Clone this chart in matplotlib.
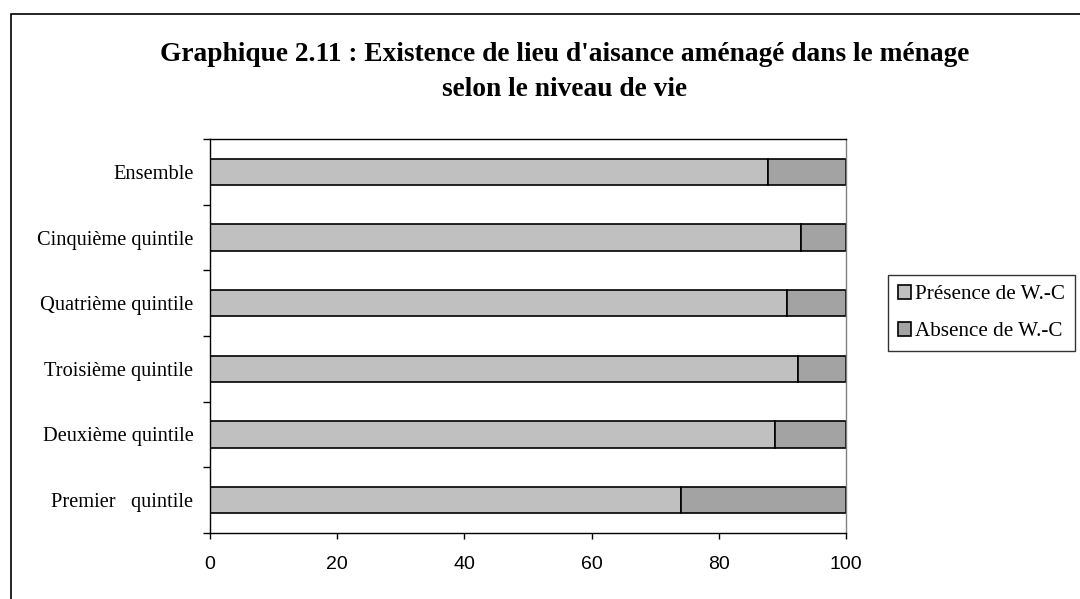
import matplotlib.pyplot as plt
from matplotlib.patches import Rectangle, Patch
from matplotlib.ticker import FixedLocator

categories = ["Premier   quintile", "Deuxième quintile", "Troisième quintile",
              "Quatrième quintile", "Cinquième quintile", "Ensemble"]
presence = [74.0, 88.8, 92.4, 90.7, 92.9, 87.7]
absence = [100 - v for v in presence]
xticks = [0, 20, 40, 60, 80, 100]

serif = ["Liberation Serif", "DejaVu Serif"]
sans = ["Liberation Sans", "DejaVu Sans"]

fig = plt.figure(figsize=(10.8, 5.99), dpi=100)

# outer chart border (only left and top visible in the crop)
fig.patches.append(Rectangle((11 / 1080, -0.1), 1.2, (599 - 14) / 599 + 0.1,
                             transform=fig.transFigure, fill=False,
                             edgecolor="black", linewidth=1.2))

ax = fig.add_axes([210 / 1080, 66 / 599, 636 / 1080, 394 / 599])
y = range(len(categories))
ax.barh(y, presence, height=0.4, color="#C0C0C0", edgecolor="black", linewidth=1.2)
ax.barh(y, absence, left=presence, height=0.4, color="#A3A3A3",
        edgecolor="black", linewidth=1.2)

ax.set_xlim(0, 100)
ax.set_ylim(-0.5, len(categories) - 0.5)
ax.set_xticks(xticks)
ax.set_xticklabels([str(t) for t in xticks], family=sans, fontsize=14)
ax.set_yticks(list(y))
ax.set_yticklabels(categories, family=serif, fontsize=14.7)
ax.yaxis.set_minor_locator(FixedLocator([i - 0.5 for i in range(len(categories) + 1)]))
ax.tick_params(axis="y", which="major", length=0, pad=12)
ax.tick_params(axis="y", which="minor", length=5, width=1, direction="out")
ax.tick_params(axis="x", length=4.5, width=1, direction="out", pad=12)

ax.spines["right"].set_color("#808080")
for s in ax.spines.values():
    s.set_linewidth(1)

fig.text(0.523, 1 - 72 / 599, "Graphique 2.11 : Existence de lieu d'aisance aménagé dans le ménage\n"
         "selon le niveau de vie", ha="center", va="center", family=serif,
         fontweight="bold", fontsize=19.7, linespacing=1.53)

handles = [Patch(facecolor="#C0C0C0", edgecolor="black", linewidth=1.2),
           Patch(facecolor="#A3A3A3", edgecolor="black", linewidth=1.2)]
leg = fig.legend(handles, ["Présence de W.-C", "Absence de W.-C"],
                 loc="center left", bbox_to_anchor=(888 / 1080, 1 - 313 / 599),
                 prop={"family": serif, "size": 15.2}, frameon=True, fancybox=False,
                 handlelength=0.65, handleheight=0.65, handletextpad=0.2,
                 borderpad=0.45, labelspacing=0.85, borderaxespad=0)
leg.get_frame().set_edgecolor("black")
leg.get_frame().set_linewidth(1)

fig.savefig("out.png", dpi=100)
